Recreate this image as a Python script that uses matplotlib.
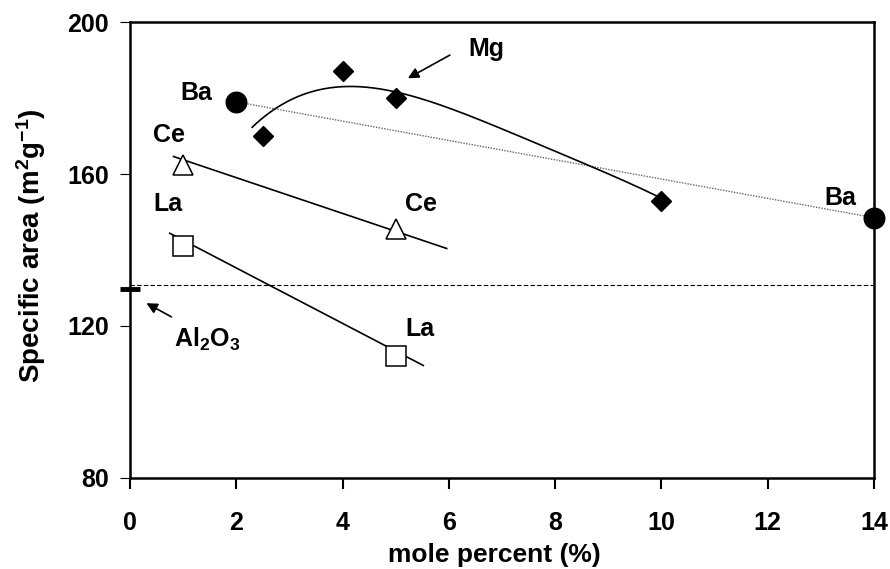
import numpy as np
import matplotlib
matplotlib.use("Agg")
import matplotlib.pyplot as plt

plt.rcParams['font.family'] = ['Liberation Sans', 'DejaVu Sans']
plt.rcParams['font.weight'] = 'bold'
plt.rcParams['mathtext.fontset'] = 'custom'
plt.rcParams['mathtext.rm'] = 'Liberation Sans:bold'
plt.rcParams['mathtext.it'] = 'Liberation Sans:bold'
plt.rcParams['mathtext.bf'] = 'Liberation Sans:bold'

# donnees
ba_x = [2, 14]
ba_y = [179, 148.5]
mg_x = [2.5, 4, 5, 10]
mg_y = [170, 187, 180, 153]
ce_x = [1, 5]
ce_y = [162.5, 145.5]
la_x = [1, 5]
la_y = [141, 112]

# lignes de tendance
ba_line_x = [1.8, 14]
ce_line_x = [0.82, 5.96]
ce_line_y = [164.6, 140.4]
la_line_x = [0.75, 5.52]
la_line_y = [144.4, 109.6]
mg_curve_x = [2.3, 2.82, 3.3, 4.0, 4.95, 5.83, 7.0, 8.71, 10.1]
mg_curve_y = [172.6, 177.4, 181.0, 183.6, 181.7, 177.9, 172.0, 161.8, 152.9]
al2o3 = 130.8

xticks = [0, 2, 4, 6, 8, 10, 12, 14]
yticks = [80, 120, 160, 200]

fig = plt.figure(figsize=(8.9, 5.69), dpi=100)
ax = fig.add_axes([0.146, 0.16, 0.836, 0.8013])

# ligne pointillee Ba
p = np.polyfit(ba_x, ba_y, 1)
ax.plot(ba_line_x, np.polyval(p, ba_line_x), color='#666666', lw=1.0, ls=(0, (1, 1)))

# courbe Mg
pm = np.polyfit(mg_curve_x, mg_curve_y, 4)
xx = np.linspace(mg_curve_x[0], mg_curve_x[-1], 200)
ax.plot(xx, np.polyval(pm, xx), color='black', lw=1.2)

ax.plot(ce_line_x, ce_line_y, color='black', lw=1.2)
ax.plot(la_line_x, la_line_y, color='black', lw=1.2)

# reference Al2O3
ax.axhline(al2o3, color='black', lw=0.8, ls=(0, (4, 2)))
ax.plot([-0.19, 0.19], [al2o3 - 1.0, al2o3 - 1.0], color='black', lw=3.5, clip_on=False, solid_capstyle='butt')

ax.plot(ba_x, ba_y, 'o', color='black', ms=14.8, clip_on=False, zorder=5)
ax.plot(mg_x, mg_y, 'D', color='black', ms=10.5, clip_on=False, zorder=5)
ax.plot(ce_x, ce_y, '^', mfc='white', mec='black', mew=1.1, ms=14.5, zorder=5)
ax.plot(la_x, la_y, 's', mfc='white', mec='black', mew=1.1, ms=14.5, zorder=5)

lab = dict(fontsize=18, fontweight='bold', ha='center', va='center')
ax.text(1.24, 181.3, 'Ba', **lab)
ax.text(13.36, 153.6, 'Ba', **lab)
ax.text(0.73, 170.3, 'Ce', **lab)
ax.text(5.48, 152.2, 'Ce', **lab)
ax.text(0.72, 152.0, 'La', **lab)
ax.text(5.46, 119.2, 'La', **lab)
ax.text(6.7, 193.0, 'Mg', **lab)
ax.text(1.45, 116.4, 'Al$_2$O$_3$', **lab)

arrow = dict(arrowstyle='-|>', color='black', lw=1.2, mutation_scale=16, shrinkA=0, shrinkB=0)
ax.annotate('', xy=(5.23, 185.2), xytext=(6.02, 191.3), arrowprops=arrow)
ax.annotate('', xy=(0.31, 126.0), xytext=(0.78, 122.4), arrowprops=arrow)

ax.set_xlim(0, 14)
ax.set_ylim(80, 200)
ax.set_xticks(xticks)
ax.set_yticks(yticks)
ax.tick_params(axis='x', direction='out', length=8, width=1.5, labelsize=18, pad=16)
ax.tick_params(axis='y', direction='out', length=7, width=0.8, labelsize=18, pad=8)
for s in ax.spines.values():
    s.set_linewidth(1.8)

ax.set_xlabel('mole percent (%)', fontsize=19, fontweight='bold')
ax.xaxis.set_label_coords(0.49, -0.142)
ax.set_ylabel('Specific area (m$^2$g$^{-1}$)', fontsize=20, fontweight='bold')
ax.yaxis.set_label_coords(-0.11, 0.51)

fig.savefig('out.png', dpi=100)
